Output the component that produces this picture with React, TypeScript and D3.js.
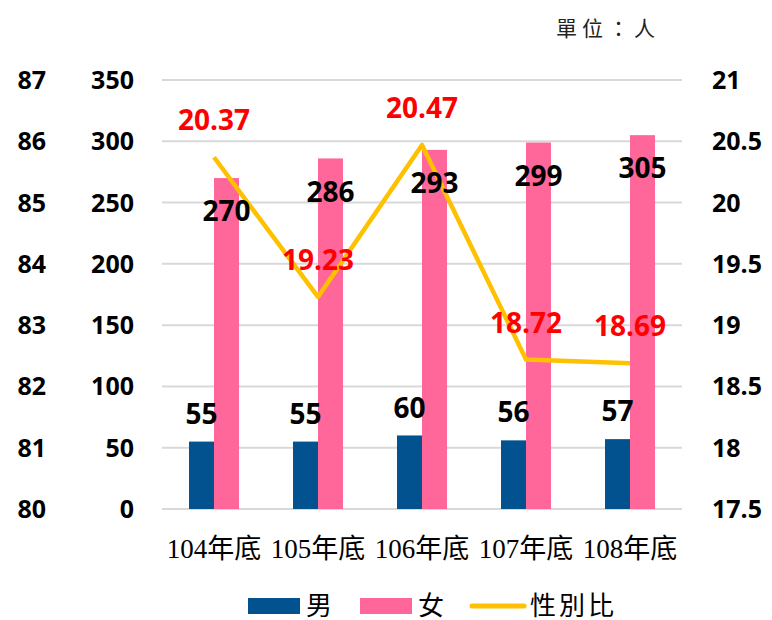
import * as d3 from "d3";

// data
const categories = ["104年底", "105年底", "106年底", "107年底", "108年底"];
const male = [55, 55, 60, 56, 57];
const female = [270, 286, 293, 299, 305];
const ratio = [20.37, 19.23, 20.47, 18.72, 18.69];
const leftTicks = [0, 50, 100, 150, 200, 250, 300, 350];
const outerTicks = [80, 81, 82, 83, 84, 85, 86, 87];
const rightTicks = [17.5, 18, 18.5, 19, 19.5, 20, 20.5, 21];

const W = 772;
const H = 620;
const plot = { left: 162, right: 682, top: 80, bottom: 509 };

const numFont = "'Open Sans', 'Liberation Sans', sans-serif";
const cjkFont = "'Liberation Serif', 'Noto Sans CJK TC', serif";

const BLUE = "#01528F";
const PINK = "#FF6699";
const GOLD = "#FFC000";

export default function App() {
  const x = d3.scaleBand<string>().domain(categories).range([plot.left, plot.right]);
  const y = d3.scaleLinear().domain([0, 350]).range([plot.bottom, plot.top]);
  const yOuter = d3.scaleLinear().domain([80, 87]).range([plot.bottom, plot.top]);
  const yR = d3.scaleLinear().domain([17.5, 21]).range([plot.bottom, plot.top]);

  const barW = 25;
  const cx = (c: string) => (x(c) as number) + x.bandwidth() / 2;

  const line = d3
    .line<number>()
    .x((_, i) => cx(categories[i]))
    .y((d) => yR(d));

  const tickStyle = { fontFamily: numFont, fontWeight: 700, fontSize: 25, fill: "#000" };

  return (
    <svg
      width={W}
      height={H}
      style={{ position: "absolute", left: 0, top: 0, background: "#fff" }}
    >
      {/* unit */}
      <text x={556} y={36} fontFamily={cjkFont} fontSize={21} letterSpacing={5} fill="#222">
        單位：人
      </text>

      {/* gridlines */}
      {leftTicks.map((t) => (
        <line key={t} x1={plot.left} x2={plot.right} y1={y(t)} y2={y(t)} stroke="#D9D9D9" strokeWidth={2} />
      ))}

      {/* outer left axis */}
      {outerTicks.map((t) => (
        <text key={t} x={46} y={yOuter(t)} dy="0.36em" textAnchor="end" {...tickStyle}>
          {t}
        </text>
      ))}

      {/* inner left axis */}
      {leftTicks.map((t) => (
        <text key={t} x={134} y={y(t)} dy="0.36em" textAnchor="end" {...tickStyle}>
          {t}
        </text>
      ))}

      {/* right axis */}
      {rightTicks.map((t) => (
        <text key={t} x={712} y={yR(t)} dy="0.36em" textAnchor="start" {...tickStyle}>
          {t}
        </text>
      ))}

      {/* bars */}
      {categories.map((c, i) => (
        <g key={c}>
          <rect x={cx(c) - barW} y={y(male[i])} width={barW} height={plot.bottom - y(male[i])} fill={BLUE} />
          <rect x={cx(c)} y={y(female[i])} width={barW} height={plot.bottom - y(female[i])} fill={PINK} />
        </g>
      ))}

      {/* ratio line */}
      <path d={line(ratio) ?? ""} fill="none" stroke={GOLD} strokeWidth={4.5} strokeLinejoin="round" />

      {/* bar labels */}
      {categories.map((c, i) => (
        <g key={c} fontFamily={numFont} fontWeight={700} fontSize={28} fill="#000" textAnchor="middle">
          <text x={cx(c) - barW / 2} y={y(male[i]) - 28} dy="0.36em">
            {male[i]}
          </text>
          <text x={cx(c) + barW / 2} y={y(female[i]) + 33} dy="0.36em">
            {female[i]}
          </text>
        </g>
      ))}

      {/* ratio labels */}
      {categories.map((c, i) => (
        <text key={c} x={cx(c)} y={yR(ratio[i]) - 37} dy="0.36em" textAnchor="middle" fontFamily={numFont} fontWeight={700} fontSize={28} fill="#FF0000">
          {ratio[i].toFixed(2)}
        </text>
      ))}

      {/* category labels */}
      {categories.map((c) => (
        <text key={c} x={cx(c)} y={548} dy="0.36em" textAnchor="middle" fontFamily={cjkFont} fontSize={27} fill="#000">
          {c}
        </text>
      ))}

      {/* legend */}
      <g fontFamily={cjkFont} fontSize={26} fill="#000">
        <rect x={248} y={598} width={52} height={16} fill={BLUE} />
        <text x={306} y={606} dy="0.36em">男</text>
        <rect x={360} y={598} width={52} height={16} fill={PINK} />
        <text x={418} y={606} dy="0.36em">女</text>
        <line x1={472} x2={524} y1={606} y2={606} stroke={GOLD} strokeWidth={5} strokeLinecap="round" />
        <text x={530} y={606} dy="0.36em" letterSpacing={3}>性別比</text>
      </g>
    </svg>
  );
}
